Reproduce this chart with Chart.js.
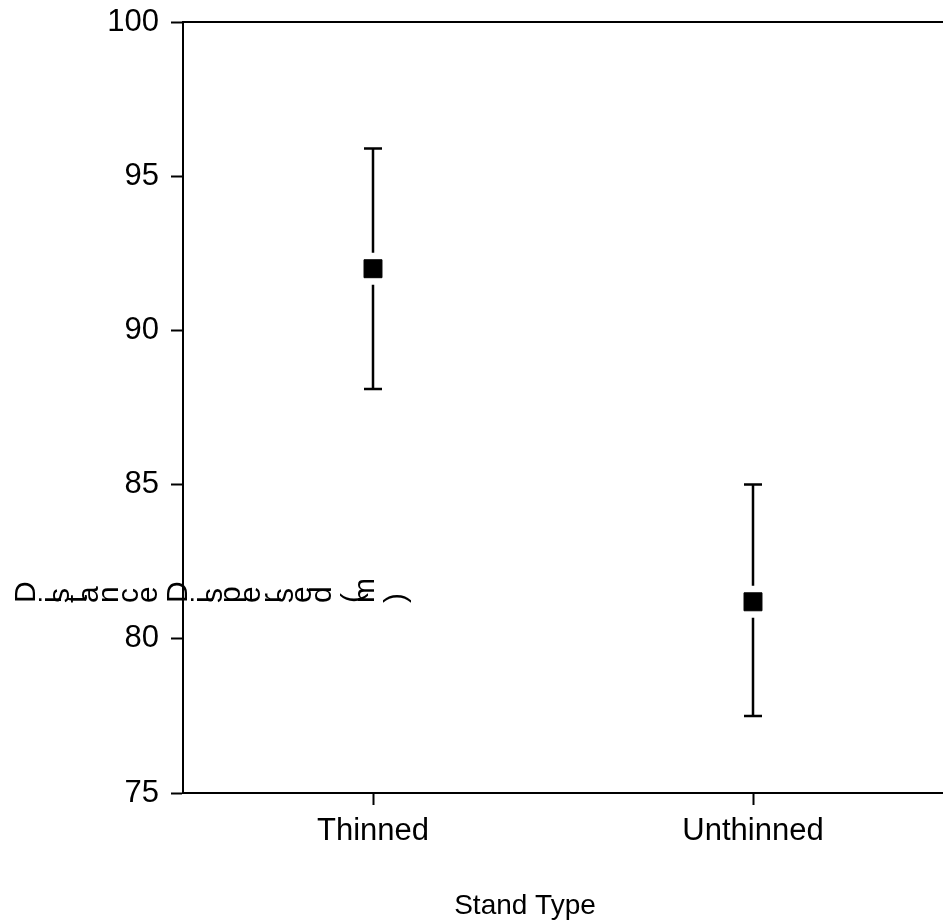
<!DOCTYPE html>
<html>
<head>
<meta charset="utf-8">
<script src="https://cdn.jsdelivr.net/npm/chart.js@4"></script>
<style>
    html, body { margin: 0; padding: 0; background: #fff; overflow: hidden; }
    #wrap { width: 943px; height: 924px; position: relative; }
    canvas { display: block; }
</style>
</head>
<body>
<div id="wrap"><canvas id="grafico"></canvas></div>
<script>
// datos
const categorias = ["Thinned", "Unthinned"];
const medias = [92.0, 81.2];
const superior = [95.9, 85.0];
const inferior = [88.1, 77.5];
const yTicks = [75, 80, 85, 90, 95, 100];
const tituloX = "Stand Type";
const tituloY = "Distance Dispersed (m)";

const FUENTE = "'Liberation Sans', Arial, sans-serif";

// barras de error con hueco alrededor del marcador
const barrasError = {
    id: "barrasError",
    afterDatasetsDraw(chart) {
        const ctx = chart.ctx;
        const xs = chart.scales.x, ys = chart.scales.y;
        ctx.save();
        ctx.strokeStyle = "#000";
        ctx.lineWidth = 2.5;
        medias.forEach((m, i) => {
            const x = xs.getPixelForValue(i);
            const yU = ys.getPixelForValue(superior[i]);
            const yL = ys.getPixelForValue(inferior[i]);
            const yM = ys.getPixelForValue(m);
            ctx.beginPath();
            ctx.moveTo(x, yU); ctx.lineTo(x, yM - 16);
            ctx.moveTo(x, yM + 16); ctx.lineTo(x, yL);
            ctx.moveTo(x - 9, yU); ctx.lineTo(x + 9, yU);
            ctx.moveTo(x - 9, yL); ctx.lineTo(x + 9, yL);
            ctx.stroke();
        });
        ctx.restore();
    }
};

// marco superior y titulos de ejes
const titulos = {
    id: "titulos",
    afterDraw(chart) {
        const ctx = chart.ctx;
        const a = chart.chartArea;
        ctx.save();
        ctx.strokeStyle = "#000";
        ctx.lineWidth = 2;
        ctx.beginPath();
        ctx.moveTo(a.left, a.top);
        ctx.lineTo(a.right, a.top);
        ctx.stroke();

        ctx.fillStyle = "#000";
        ctx.font = "28px " + FUENTE;
        ctx.textAlign = "center";
        ctx.textBaseline = "alphabetic";
        ctx.fillText(tituloX, a.left + (a.right - a.left) * 0.45, 914);

        // titulo Y: cada letra girada, en fila horizontal
        ctx.font = "30px " + FUENTE;
        ctx.textAlign = "left";
        let avance = 0;
        for (const ch of tituloY) {
            ctx.save();
            ctx.translate(34.5 + avance * 1.22, 603);
            ctx.rotate(-Math.PI / 2);
            ctx.fillText(ch, 0, 0);
            ctx.restore();
            avance += ctx.measureText(ch).width;
        }
        ctx.restore();
    }
};

new Chart(document.getElementById("grafico"), {
    type: "line",
    data: {
        labels: categorias,
        datasets: [{
            data: medias,
            showLine: false,
            pointStyle: "rect",
            pointRadius: 12.7,
            pointHoverRadius: 12.7,
            backgroundColor: "#000",
            borderColor: "#000",
            borderWidth: 1
        }]
    },
    options: {
        responsive: true,
        maintainAspectRatio: false,
        animation: false,
        events: [],
        layout: { autoPadding: false, padding: { top: 22, right: 0, left: 0, bottom: 0 } },
        plugins: { legend: { display: false }, tooltip: { enabled: false } },
        scales: {
            x: {
                type: "category",
                offset: true,
                grid: { display: true, drawOnChartArea: false, tickLength: 12, tickWidth: 2, tickColor: "#000", offset: false },
                border: { display: true, color: "#000", width: 2 },
                ticks: { color: "#000", font: { family: FUENTE, size: 31 }, padding: 8, maxRotation: 0 },
                afterFit(s) {
                    s.height = 131;
                    s.paddingLeft = 0; s.paddingRight = 0;
                }
            },
            y: {
                min: 75,
                max: 100,
                afterBuildTicks(s) { s.ticks = yTicks.map(v => ({ value: v })); },
                grid: { display: true, drawOnChartArea: false, tickLength: 12, tickWidth: 2, tickColor: "#000" },
                border: { display: true, color: "#000", width: 2 },
                ticks: { color: "#000", font: { family: FUENTE, size: 31 }, padding: 12 },
                afterFit(s) {
                    s.width = 183;
                    s.paddingTop = 0; s.paddingBottom = 0;
                }
            }
        }
    },
    plugins: [barrasError, titulos]
});
</script>
</body>
</html>
